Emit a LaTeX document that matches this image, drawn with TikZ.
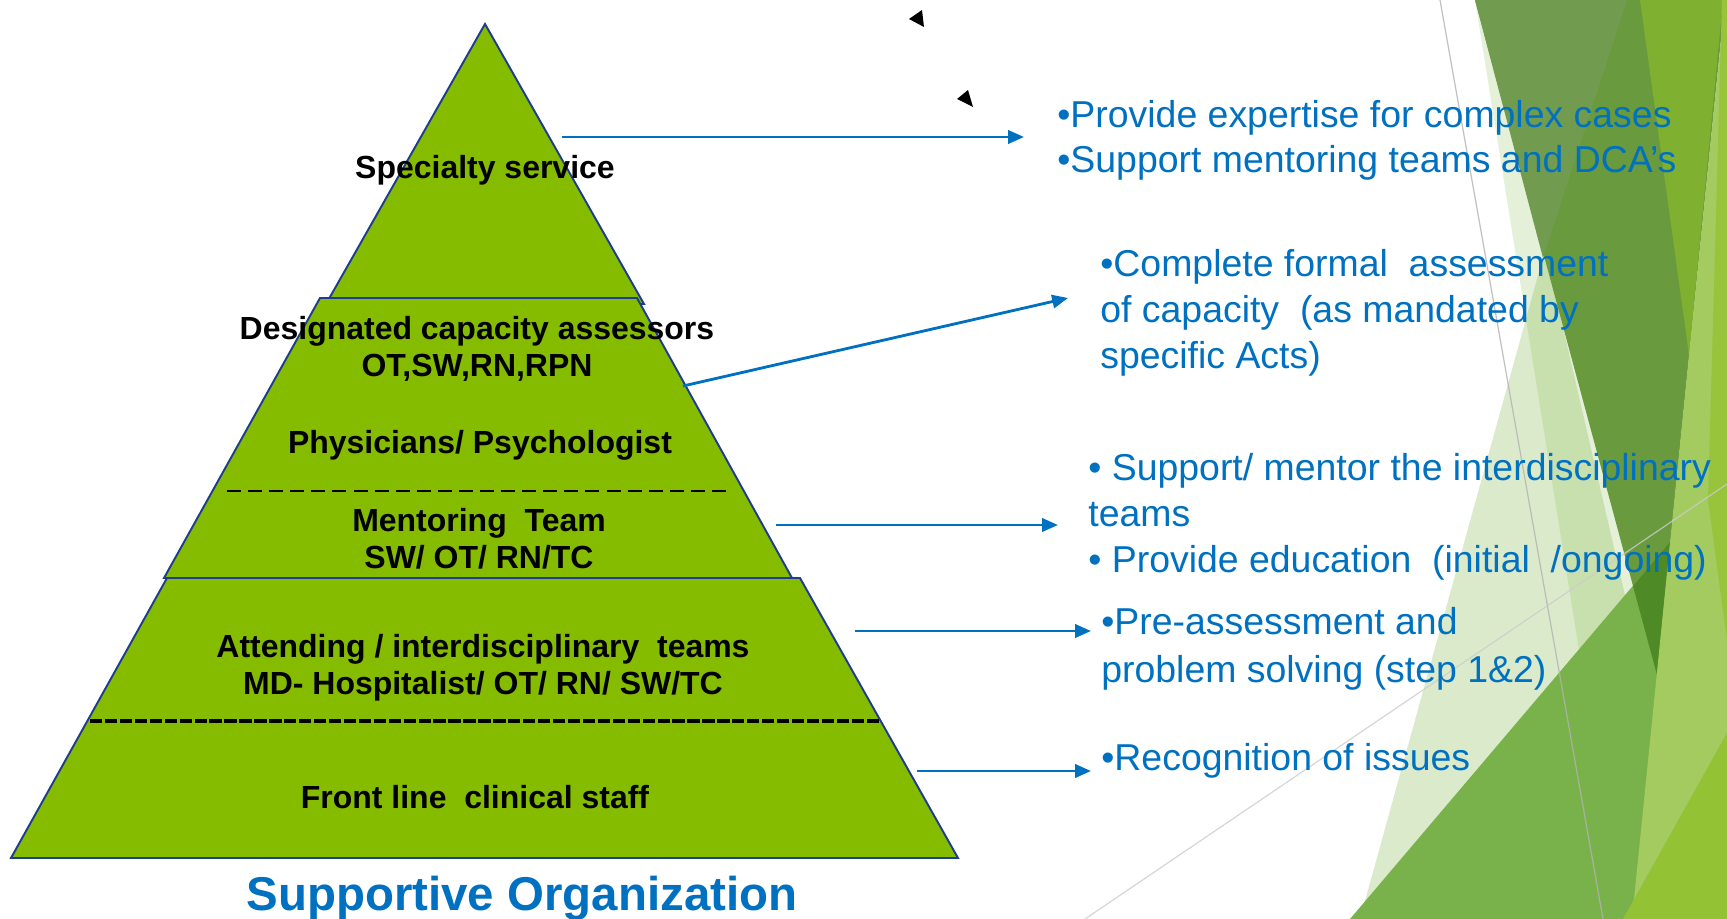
\documentclass[tikz,border=0pt]{standalone}
\usepackage{fontspec}
\setmainfont{Liberation Sans}
\usetikzlibrary{arrows.meta}
\definecolor{pyrgreen}{HTML}{85BC00}
\definecolor{pyredge}{HTML}{1F3D8F}
\definecolor{noteblue}{HTML}{0070C0}
\definecolor{facetpale}{HTML}{7DB340}
\definecolor{facetdark}{HTML}{699A3D}
\definecolor{facetolive}{HTML}{719C50}
\definecolor{facetbright}{HTML}{80B030}
\definecolor{facetmid}{HTML}{79B24A}
\definecolor{facetdeep}{HTML}{4E8A26}
\definecolor{facetsoft}{HTML}{A3CB60}
\definecolor{facetlime}{HTML}{97C43B}
\definecolor{facetyellow}{HTML}{93C235}
\tikzset{
	tier/.style      = {draw=pyredge, line width=1.1pt, fill=pyrgreen, line join=miter},
	splitthin/.style = {line width=1.1pt, dash pattern=on 8pt off 4pt},
	splitthick/.style= {line width=2.3pt, dash pattern=on 7pt off 1.5pt},
	lvl/.style       = {inner sep=0pt, anchor=base, align=center,
		font=\fontsize{18.2}{21.1}\selectfont\bfseries},
	note/.style      = {inner sep=0pt, anchor=base west, align=left, text=noteblue,
		font=\fontsize{21.3}{25.9}\selectfont},
	link/.style      = {draw=noteblue, line width=1.6pt, -{Triangle[length=9pt,width=7.5pt]}},
	guide/.style     = {line width=0.7pt}
}

\begin{document}
\begin{tikzpicture}[x=0.02cm, y=-0.02cm]
	\useasboundingbox (0,0) rectangle (1727,919);
	% facets on the right hand side
	\fill[facetpale, opacity=0.2] (1475,0) -- (1600,0) -- (1727,919) -- (1622,919) -- cycle;
	\fill[facetpale, opacity=0.28] (1360,919) -- (1545,250) -- (1700,919) -- cycle;
	\fill[facetdark] (1475,0) -- (1725,0) -- (1657,675) -- cycle;
	\fill[facetolive] (1475,0) -- (1627,0) -- (1543,258) -- cycle;
	\fill[facetbright] (1640,0) -- (1723,0) -- (1689,355) -- cycle;
	\fill[facetmid] (1350,919) -- (1727,475) -- (1727,919) -- cycle;
	\fill[facetdeep] (1633,586) -- (1670,542) -- (1657,675) -- cycle;
	\fill[facetsoft] (1725,0) -- (1727,0) -- (1727,919) -- (1632,919) -- cycle;
	\fill[facetlime] (1722,0) -- (1727,0) -- (1727,640) -- (1708,500) -- cycle;
	\fill[facetyellow] (1623,919) -- (1727,733) -- (1727,919) -- cycle;
	\draw[guide, gray!60, opacity=0.8] (1440,0) -- (1603,919);
	\draw[guide, gray!40, opacity=0.8] (1085,919) -- (1727,484);

	% Drawing the tiers of the pyramid
	\draw[tier] (485,24) -- (644,304) -- (326,304) -- cycle;
	\draw[tier] (320,298) -- (637,298) -- (792,578) -- (164,578) -- cycle;
	\draw[tier] (167,578) -- (800,578) -- (958,858) -- (11,858) -- cycle;
	\draw[splitthin] (227,491) -- (732,491);
	\draw[splitthick] (90,721) -- (879,721);

	\draw
	node at (485,178.5)[lvl] (spec) {Specialty service}
	node at (477,376.5)[lvl] (dca) {Designated capacity assessors\\OT,SW,RN,RPN}
	node at (480,453.5)[lvl] (phys) {Physicians/ Psychologist}
	node at (479,568.5)[lvl] (ment) {Mentoring\ \ Team\\SW/ OT/ RN/TC}
	node at (483,694.5)[lvl] (attend) {Attending / interdisciplinary\ \ teams\\MD- Hospitalist/ OT/ RN/ SW/TC}
	node at (475,808.5)[lvl] (front) {Front line\ \ clinical staff}
	node at (522,910)[lvl, text=noteblue, font=\fontsize{27}{32}\selectfont\bfseries] (title) {Supportive Organization}
	;

	% Drawing the notes
	\draw
	node at (1057,173)[note] (n1) {•Provide expertise for complex cases\\•Support mentoring teams and DCA’s}
	node at (1100,368)[note] (n2) {•Complete formal\ \ assessment\\of capacity\ \ (as mandated by\\specific Acts)}
	node at (1088,572)[note] (n3) {• Support/ mentor the interdisciplinary\\teams\\• Provide education\ \ (initial\ \ /ongoing)}
	node at (1101,682)[note, font=\fontsize{21.3}{26.8}\selectfont] (n4) {•Pre-assessment and\\problem solving (step 1\&2)}
	node at (1101,770)[note] (n5) {•Recognition of issues}
	;

	\coordinate (t1) at (562,137); \coordinate (h1) at (1024,137);
	\coordinate (t2) at (683,386); \coordinate (h2) at (1068,298);
	\coordinate (t3) at (776,525); \coordinate (h3) at (1058,525);
	\coordinate (t4) at (855,631); \coordinate (h4) at (1091,631);
	\coordinate (t5) at (917,771); \coordinate (h5) at (1091,771);
	\draw[link] (t1) -- (h1);
	\draw[link] (t2) -- (h2);
	\draw[link] (t3) -- (h3);
	\draw[link] (t4) -- (h4);
	\draw[link] (t5) -- (h5);

	% stray tips at the top
	\fill (909,19) -- (922,10) -- (924,27) -- cycle;
	\fill (957,99) -- (968,90) -- (973,107) -- cycle;
\end{tikzpicture}
\end{document}
